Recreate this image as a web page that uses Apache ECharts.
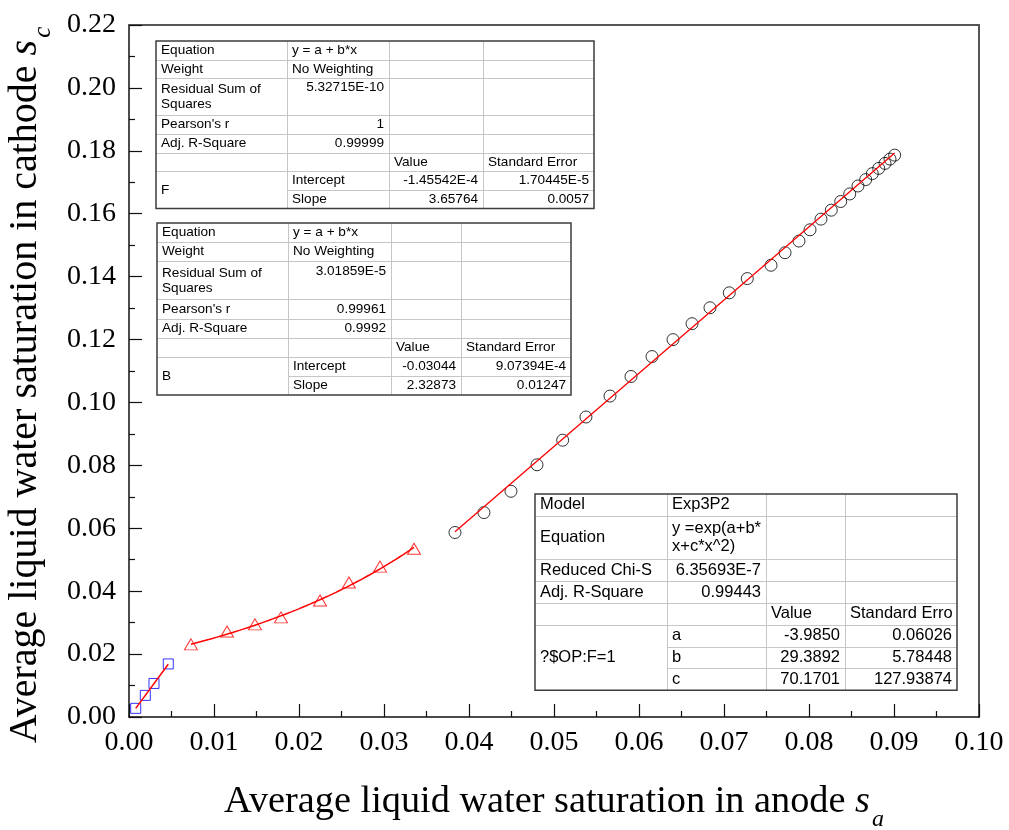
<!DOCTYPE html>
<html>
<head>
<meta charset="utf-8">
<title>Anode vs cathode liquid water saturation</title>
<script src="https://cdn.jsdelivr.net/npm/echarts/dist/echarts.min.js"></script>
<style>
  html, body { margin: 0; padding: 0; background: #fff; }
  #chart { width: 1009px; height: 830px; }
</style>
</head>
<body>
<div id="chart"></div>
<script>
// ---- measured points ----
const squareX = [0.00079, 0.00192, 0.00294, 0.00462];
const squareY = [0.00275, 0.00687, 0.01067, 0.01687];

const triangleX = [0.00729, 0.01153, 0.01482, 0.01788, 0.02247, 0.02588, 0.02953, 0.03353];
const triangleY = [0.0231, 0.0272, 0.02944, 0.03166, 0.03704, 0.04274, 0.0478, 0.0535];

const circleX = [0.03835, 0.04176, 0.04494, 0.04800, 0.05102, 0.05376, 0.05659, 0.05906,
  0.06153, 0.06400, 0.06624, 0.06835, 0.07062, 0.07274, 0.07553, 0.07718, 0.07882,
  0.08012, 0.08141, 0.08262, 0.08373, 0.08479, 0.08576, 0.08667, 0.08745, 0.08820,
  0.08894, 0.08953, 0.09008];
const circleY = [0.05866, 0.06499, 0.07176, 0.08018, 0.08800, 0.09538, 0.10203, 0.10826,
  0.11459, 0.11997, 0.12504, 0.13010, 0.13485, 0.13938, 0.14362, 0.14761, 0.15131,
  0.15489, 0.15828, 0.16113, 0.16388, 0.16629, 0.16882, 0.17085, 0.17275, 0.17442,
  0.17600, 0.17737, 0.17863];

// ---- fitted parameters (as reported in the tables) ----
const fitF = { a: -1.45542e-4, b: 3.65764 };
const fitB = { a: -0.03044, b: 2.32873 };
const fitExp = { a: -3.9850, b: 29.3892, c: 70.1701 };

// ---- tick labels ----
const xTicks = ['0.00', '0.01', '0.02', '0.03', '0.04', '0.05', '0.06', '0.07', '0.08', '0.09', '0.10'];
const yTicks = ['0.00', '0.02', '0.04', '0.06', '0.08', '0.10', '0.12', '0.14', '0.16', '0.18', '0.20', '0.22'];

// ---- fit report tables (null = cell merged with the one above) ----
const tableF = [
  ['Equation', 'y = a + b*x', '', ''],
  ['Weight', 'No Weighting', '', ''],
  ['Residual Sum of\nSquares', '5.32715E-10', '', ''],
  ["Pearson's r", '1', '', ''],
  ['Adj. R-Square', '0.99999', '', ''],
  ['', '', 'Value', 'Standard Error'],
  ['F', 'Intercept', '-1.45542E-4', '1.70445E-5'],
  [null, 'Slope', '3.65764', '0.0057']
];
const tableB = [
  ['Equation', 'y = a + b*x', '', ''],
  ['Weight', 'No Weighting', '', ''],
  ['Residual Sum of\nSquares', '3.01859E-5', '', ''],
  ["Pearson's r", '0.99961', '', ''],
  ['Adj. R-Square', '0.9992', '', ''],
  ['', '', 'Value', 'Standard Error'],
  ['B', 'Intercept', '-0.03044', '9.07394E-4'],
  [null, 'Slope', '2.32873', '0.01247']
];
const tableExp = [
  ['Model', 'Exp3P2', '', ''],
  ['Equation', 'y =exp(a+b*\nx+c*x^2)', '', ''],
  ['Reduced Chi-S', '6.35693E-7', '', ''],
  ['Adj. R-Square', '0.99443', '', ''],
  ['', '', 'Value', 'Standard Erro'],
  ['?$OP:F=1', 'a', '-3.9850', '0.06026'],
  [null, 'b', '29.3892', '5.78448'],
  [null, 'c', '70.1701', '127.93874']
];

// ---- helpers ----
function linePoints(fit, xs) {
  const x0 = Math.min(...xs), x1 = Math.max(...xs);
  return [[x0, fit.a + fit.b * x0], [x1, fit.a + fit.b * x1]];
}
function expPoints(fit, xs, n) {
  const x0 = Math.min(...xs), x1 = Math.max(...xs);
  const pts = [];
  for (let i = 0; i <= n; i++) {
    const x = x0 + (x1 - x0) * i / n;
    pts.push([x, Math.exp(fit.a + fit.b * x + fit.c * x * x)]);
  }
  return pts;
}
const zip = (xs, ys) => xs.map((x, i) => [x, ys[i]]);

const isNumber = t => /^-?[\d.]+(E-?\d+)?$/.test(t);

function tableGraphics(cells, layout) {
  const els = [];
  const rowTops = [];
  let y = layout.top;
  layout.rowUnits.forEach(u => { rowTops.push(y); y += u * layout.unit; });
  rowTops.push(y);
  const bottom = y;
  const cols = layout.cols;
  const left = cols[0], right = cols[cols.length - 1];
  const font = layout.fontSize + 'px "Liberation Sans", Arial, sans-serif';
  const z = 20;

  els.push({ type: 'rect', z: z, silent: true,
    shape: { x: left, y: layout.top, width: right - left, height: bottom - layout.top },
    style: { fill: '#ffffff' } });

  for (let c = 1; c < cols.length - 1; c++) {
    els.push({ type: 'line', z: z + 1, silent: true,
      shape: { x1: cols[c] + 0.5, y1: layout.top, x2: cols[c] + 0.5, y2: bottom },
      style: { stroke: '#c6c6c6', lineWidth: 1 } });
  }
  for (let r = 1; r < cells.length; r++) {
    for (let c = 0; c < cols.length - 1; c++) {
      if (cells[r][c] === null) continue;
      els.push({ type: 'line', z: z + 1, silent: true,
        shape: { x1: cols[c], y1: Math.round(rowTops[r]) + 0.5, x2: cols[c + 1], y2: Math.round(rowTops[r]) + 0.5 },
        style: { stroke: '#c6c6c6', lineWidth: 1 } });
    }
  }
  els.push({ type: 'rect', z: z + 2, silent: true,
    shape: { x: left, y: layout.top, width: right - left, height: bottom - layout.top },
    style: { fill: null, stroke: '#3c3c3c', lineWidth: 1.5 } });

  for (let r = 0; r < cells.length; r++) {
    for (let c = 0; c < cols.length - 1; c++) {
      const t = cells[r][c];
      if (!t) continue;
      let span = 1;
      while (r + span < cells.length && cells[r + span][c] === null) span++;
      const top = rowTops[r], bot = rowTops[r + span];
      const num = isNumber(t);
      const tx = num ? cols[c + 1] - layout.pad : cols[c] + layout.pad;
      const ty = (num && layout.rowUnits[r] > 1) ? top + layout.unit / 2 : (top + bot) / 2;
      els.push({ type: 'text', z: z + 3, silent: true, x: tx, y: ty,
        style: { text: t, font: font, fill: '#000',
          align: num ? 'right' : 'left', textAlign: num ? 'right' : 'left',
          verticalAlign: 'middle', textVerticalAlign: 'middle',
          lineHeight: layout.lineHeight } });
    }
  }
  return els;
}

const serif = '"Liberation Serif", "Times New Roman", serif';

const chart = echarts.init(document.getElementById('chart'), null, { renderer: 'canvas' });

// axis titles: upright text, italic symbol, lowered italic subscript
function titleRich(size) {
  return {
    t: { fontFamily: serif, fontSize: size, color: '#000', lineHeight: size, verticalAlign: 'top' },
    s: { fontFamily: serif, fontSize: size, fontStyle: 'italic', color: '#000', lineHeight: size, verticalAlign: 'top' },
    sub: { fontFamily: serif, fontSize: Math.round(size * 0.63), fontStyle: 'italic', color: '#000',
      lineHeight: Math.round(size * 1.9), verticalAlign: 'middle', padding: [0, 0, 0, 2] }
  };
}

const frameColor = '#111';

chart.setOption({
  animation: false,
  backgroundColor: '#ffffff',
  grid: { left: 129, right: 30, top: 25, bottom: 113, containLabel: false, outerBoundsMode: 'none' },
  xAxis: [{
    type: 'value', min: 0, max: 0.1, interval: 0.01,
    axisLine: { show: true, onZero: false, lineStyle: { color: frameColor, width: 1.5 } },
    axisTick: { show: true, inside: true, length: 13, lineStyle: { color: frameColor, width: 1.2 } },
    minorTick: { show: true, splitNumber: 2, length: 6, lineStyle: { color: frameColor, width: 1.2 } },
    splitLine: { show: false },
    axisLabel: { margin: 12, color: '#000', fontFamily: serif, fontSize: 28,
      formatter: (v) => xTicks[Math.round(v * 100)] },
    name: '{t|Average liquid water saturation in anode }{s|s}{sub|a}',
    nameLocation: 'middle', nameGap: 66,
    nameTextStyle: { rich: titleRich(38.3), padding: [0, 0, 0, 0] }
  }, {
    type: 'value', min: 0, max: 0.1, interval: 0.01, position: 'top',
    axisLine: { show: true, onZero: false, lineStyle: { color: '#555', width: 2 } },
    axisTick: { show: false }, axisLabel: { show: false }, splitLine: { show: false }
  }],
  yAxis: [{
    type: 'value', min: 0, max: 0.22, interval: 0.02,
    axisLine: { show: true, onZero: false, lineStyle: { color: frameColor, width: 1.5 } },
    axisTick: { show: true, inside: true, length: 13, lineStyle: { color: frameColor, width: 1.2 } },
    minorTick: { show: true, splitNumber: 2, length: 6, lineStyle: { color: frameColor, width: 1.2 } },
    splitLine: { show: false },
    axisLabel: { margin: 13, color: '#000', fontFamily: serif, fontSize: 28,
      formatter: (v) => yTicks[Math.round(v * 50)] },
    name: '{t|Average liquid water saturation in cathode }{s|s}{sub|c}',
    nameLocation: 'middle', nameGap: 48, nameRotate: 90,
    nameTextStyle: { rich: titleRich(40), padding: [0, 28, 0, 0] }
  }, {
    type: 'value', min: 0, max: 0.22, interval: 0.02, position: 'right',
    axisLine: { show: true, onZero: false, lineStyle: { color: '#555', width: 2 } },
    axisTick: { show: false }, axisLabel: { show: false }, splitLine: { show: false }
  }],
  series: [
    { name: 'F', type: 'scatter', data: zip(squareX, squareY), symbol: 'rect', symbolSize: 10, z: 3,
      itemStyle: { color: 'rgba(0,0,0,0)', borderColor: '#0000ff', borderWidth: 1 } },
    { name: 'F fit', type: 'line', data: linePoints(fitF, squareX), showSymbol: false, z: 4,
      lineStyle: { color: '#ff0000', width: 1.5 } },
    { name: '?$OP:F=1', type: 'scatter', data: zip(triangleX, triangleY), symbol: 'triangle', symbolSize: [13, 11], z: 3,
      itemStyle: { color: 'rgba(0,0,0,0)', borderColor: '#ff0000', borderWidth: 1 } },
    { name: 'Exp fit', type: 'line', data: expPoints(fitExp, triangleX, 60), showSymbol: false, z: 4,
      lineStyle: { color: '#ff0000', width: 1.5 } },
    { name: 'B', type: 'scatter', data: zip(circleX, circleY), symbol: 'circle', symbolSize: 12, z: 3,
      itemStyle: { color: 'rgba(0,0,0,0)', borderColor: '#000000', borderWidth: 1 } },
    { name: 'B fit', type: 'line', data: linePoints(fitB, circleX), showSymbol: false, z: 4,
      lineStyle: { color: '#ff0000', width: 1.3 } }
  ],
  graphic: [].concat(
    tableGraphics(tableF, { top: 41, cols: [156, 287, 389, 483, 594], rowUnits: [1, 1, 2, 1, 1, 1, 1, 1], unit: 18.6, fontSize: 13.6, lineHeight: 15, pad: 5 }),
    tableGraphics(tableB, { top: 223, cols: [157, 288, 391, 461, 571], rowUnits: [1, 1, 2, 1, 1, 1, 1, 1], unit: 19.1, fontSize: 13.6, lineHeight: 15, pad: 5 }),
    tableGraphics(tableExp, { top: 494, cols: [535, 667, 766, 845, 957], rowUnits: [1, 2, 1, 1, 1, 1, 1, 1], unit: 21.8, fontSize: 16.5, lineHeight: 18, pad: 5 })
  )
});
</script>
</body>
</html>
